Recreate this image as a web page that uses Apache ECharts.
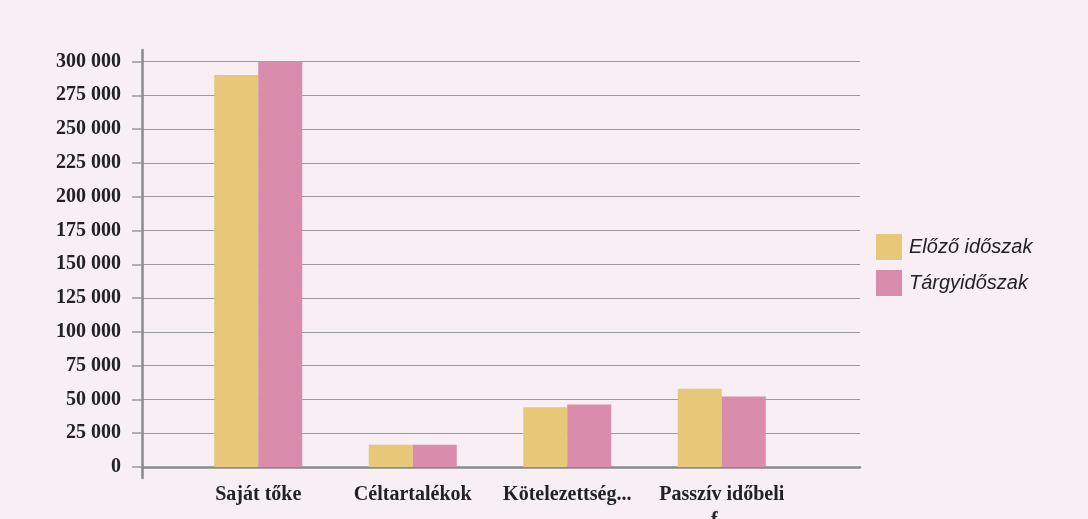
<!DOCTYPE html>
<html><head><meta charset="utf-8">
<script src="https://cdn.jsdelivr.net/npm/echarts@6/dist/echarts.min.js"></script>
<style>html,body{margin:0;padding:0;background:#f7eff3}#c{width:1088px;height:519px}</style>
</head><body><div id="c"></div>
<script>
const categories = ['Saját tőke', 'Céltartalékok', 'Kötelezettség...', 'Passzív időbeli\nf...'];
const seriesNames = ['Előző időszak', 'Tárgyidőszak'];
const previousPeriod = [290000, 16500, 44200, 57800];
const currentPeriod = [300000, 16500, 46200, 52100];
const yMin = 0, yMax = 300000, yStep = 25000;

const chart = echarts.init(document.getElementById('c'));
const fmt = v => v === 0 ? '0' : String(v).replace(/\B(?=(\d{3})+(?!\d))/g, ' ');
const serif = 'Liberation Serif';
chart.setOption({
  backgroundColor: '#f7eff3',
  animation: false,
  legend: {
    orient: 'vertical', left: 876, top: 234, padding: 0,
    itemWidth: 26, itemHeight: 26, itemGap: 10,
    icon: 'rect',
    textStyle: { fontFamily: 'Liberation Sans', fontStyle: 'italic', fontSize: 20, color: '#222', padding: [0,0,0,2] },
    data: seriesNames
  },
  grid: [
    { left: 142, right: 228, top: 50, bottom: 41, outerBoundsMode: 'none' },
    { left: 142, right: 228, top: 61.5, bottom: 52, outerBoundsMode: 'none' },
    { left: 181, right: 289, top: 61.5, bottom: 52, outerBoundsMode: 'none' }
  ],
  xAxis: [
    { gridIndex: 0, type: 'category', data: categories, show: false },
    { gridIndex: 1, type: 'category', data: categories,
      axisLine: { show: true, lineStyle: { color: '#8a8a8a', width: 2.5 } },
      axisTick: { show: false }, axisLabel: { show: false } },
    { gridIndex: 2, type: 'category', data: categories,
      axisLine: { show: false }, axisTick: { show: false },
      axisLabel: { fontFamily: serif, fontWeight: 'bold', fontSize: 20, color: '#222', margin: 15, lineHeight: 26, interval: 0 } }
  ],
  yAxis: [
    { gridIndex: 0, type: 'value', min: 0, max: 1, splitLine: { show: false },
      axisLabel: { show: false }, axisTick: { show: false },
      axisLine: { show: true, lineStyle: { color: '#8a8a8a', width: 2.5 } } },
    { gridIndex: 1, type: 'value', min: yMin, max: yMax, interval: yStep,
      axisLine: { show: false },
      axisTick: { show: true, length: 10, lineStyle: { color: '#999', width: 1.5 } },
      axisLabel: { formatter: fmt, fontFamily: serif, fontWeight: 'bold', fontSize: 20, color: '#222', margin: 21 },
      splitLine: { show: true, lineStyle: { color: '#9a9a9a', width: 1.2 } } },
    { gridIndex: 2, type: 'value', min: yMin, max: yMax, interval: yStep, show: false, splitLine: { show: false } }
  ],
  series: [
    { name: seriesNames[0], type: 'bar', xAxisIndex: 2, yAxisIndex: 2, data: previousPeriod,
      barWidth: 44, barGap: '0%', itemStyle: { color: '#e6c878' } },
    { name: seriesNames[1], type: 'bar', xAxisIndex: 2, yAxisIndex: 2, data: currentPeriod,
      barWidth: 44, barGap: '0%', itemStyle: { color: '#d98cac' } }
  ]
});
</script></body></html>
